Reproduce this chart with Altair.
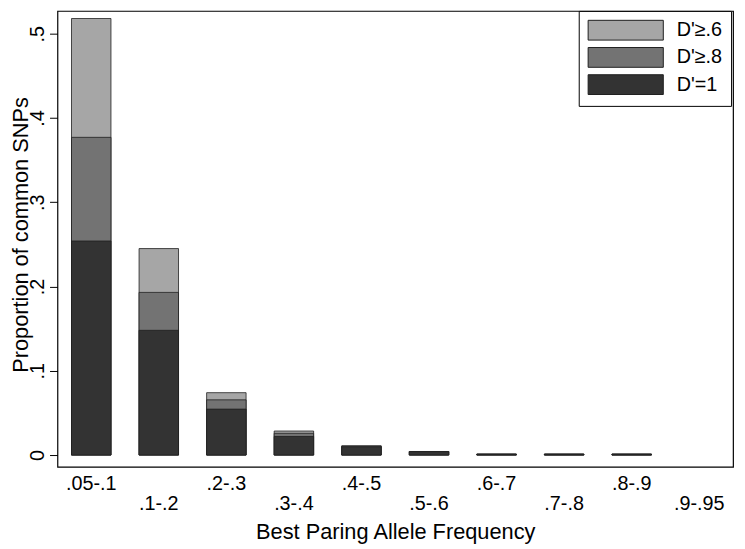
import json
import altair as alt
import pandas as pd

categories = [".05-.1", ".1-.2", ".2-.3", ".3-.4", ".4-.5", ".5-.6", ".6-.7", ".7-.8", ".8-.9", ".9-.95"]
d_06 = [0.518, 0.245, 0.074, 0.0285, 0.011, 0.0042, 0.0012, 0.0012, 0.0012, 0.0]
d_08 = [0.377, 0.193, 0.0655, 0.0258, 0.0105, 0.0041, 0.0011, 0.0011, 0.0011, 0.0]
d_1 = [0.254, 0.148, 0.0545, 0.022, 0.0098, 0.004, 0.001, 0.001, 0.001, 0.0]
series = ["D'≥.6", "D'≥.8", "D'=1"]
colors = ["#a6a6a6", "#737373", "#333333"]
y_ticks = [0, 0.1, 0.2, 0.3, 0.4, 0.5]

rows = []
for s_i, (name, vals) in enumerate(zip(series, [d_06, d_08, d_1])):
    for c, v in zip(categories, vals):
        rows.append({"bin": c, "value": v, "series": name, "z": s_i})
df = pd.DataFrame(rows)

odd = categories[1::2]
x_label_expr = "indexof(%s, datum.value) >= 0 ? ['', datum.value] : datum.value" % json.dumps(odd)
y_label_expr = "datum.value == 0 ? '0' : '.' + round(datum.value * 10)"

chart = alt.Chart(df).transform_filter("datum.value > 0").mark_bar(
    stroke="#1e1e1e", strokeWidth=0.8
).encode(
    x=alt.X(
        "bin:N",
        sort=categories,
        scale=alt.Scale(domain=categories, paddingInner=0.416, paddingOuter=0.208),
        axis=alt.Axis(
            title="Best Paring Allele Frequency",
            labelAngle=0, domain=False, ticks=False, labelPadding=7,
            labelFontSize=20, labelLineHeight=20, labelExpr=x_label_expr,
            titleFontSize=22, titleFontWeight="normal",
            titleY=72, titleBaseline="alphabetic",
        ),
    ),
    y=alt.Y(
        "value:Q",
        stack=None,
        scale=alt.Scale(domain=[-0.0141, 0.527], nice=False),
        axis=alt.Axis(
            values=y_ticks, labelExpr=y_label_expr,
            labelAngle=270, labelAlign="center", labelBaseline="alphabetic",
            labelPadding=6, tickSize=8, grid=False, domain=False,
            labelFontSize=20,
            title="Proportion of common SNPs",
            titleFontSize=22, titleFontWeight="normal",
            titleAngle=270, titleAlign="center", titleBaseline="alphabetic",
            titleX=-30, titleY=226,
        ),
    ),
    color=alt.Color(
        "series:N",
        scale=alt.Scale(domain=series, range=colors),
        legend=alt.Legend(
            title=None, orient="none", legendX=527, legendY=0,
            symbolType="M-3.8,-1H3.8V1H-3.8Z", symbolSize=400,
            symbolOffset=28, labelOffset=41, labelFontSize=20,
            rowPadding=2.5, padding=9, strokeColor="black", fillColor="white",
            symbolStrokeColor="#1e1e1e", symbolStrokeWidth=1, symbolOpacity=1,
            labelLimit=200,
        ),
    ),
    order=alt.Order("z:Q"),
).properties(
    width=683, height=461,
    autosize=alt.AutoSizeParams(type="none"),
    padding={"left": 50, "top": 0, "right": 4, "bottom": 78},
).configure(
    font="Liberation Sans",
).configure_view(
    stroke="black", strokeWidth=1.2,
).configure_axis(
    labelColor="black", titleColor="black", tickColor="black", tickWidth=1,
)

chart.save("out.html", embed_options={"renderer": "svg", "actions": False})
